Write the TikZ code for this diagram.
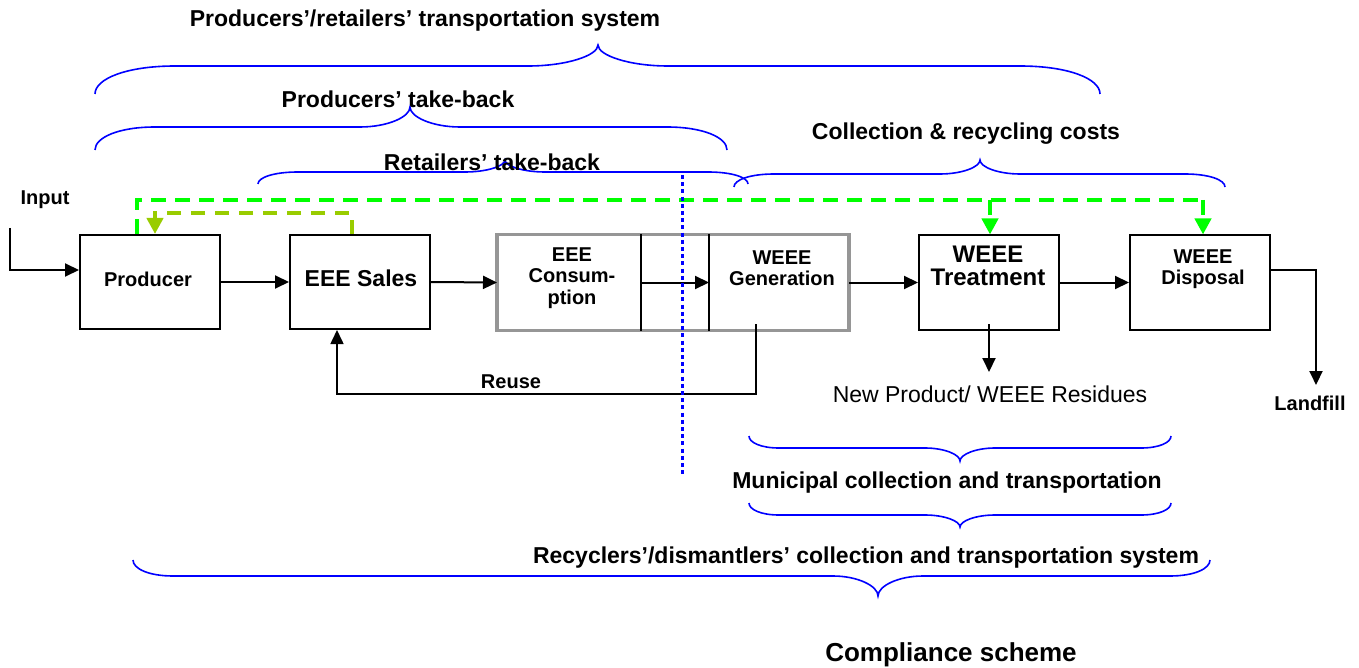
\documentclass[tikz,border=0pt]{standalone}
\usepackage{fontspec}
\setmainfont{Liberation Sans}
\usetikzlibrary{arrows.meta}
\definecolor{brgreen}{RGB}{0,255,0}
\definecolor{ygreen}{RGB}{153,204,0}
\definecolor{bblue}{RGB}{0,0,255}
\definecolor{bgray}{RGB}{150,150,150}
% #1 x1, #2 x2, #3 yend, #4 yline, #5 xtip, #6 ytip, #7 end radius, #8 tip radius
\newcommand\mybrace[8]{%
  \draw[brc] (#1,#3) .. controls (#1,{#4+0.45*(#3-#4)}) and ({#1+0.4*#7},#4) .. ({#1+#7},#4)
    -- ({#5-#8},#4) .. controls ({#5-0.45*#8},#4) and (#5,{#6+0.5*(#4-#6)}) .. (#5,#6)
    .. controls (#5,{#6+0.5*(#4-#6)}) and ({#5+0.45*#8},#4) .. ({#5+#8},#4)
    -- ({#2-#7},#4) .. controls ({#2-0.4*#7},#4) and (#2,{#4+0.45*(#3-#4)}) .. (#2,#3);}
\begin{document}
\begin{tikzpicture}[x=0.5pt,y=-0.5pt,
  box/.style={draw, line width=1pt, minimum width=70pt, minimum height=47pt, inner sep=0pt},
  lab/.style={font=\fontsize{11.5pt}{13pt}\selectfont\bfseries, inner sep=0pt},
  btxt/.style={font=\fontsize{10pt}{10.75pt}\selectfont\bfseries, align=center, inner sep=0pt},
  bigtxt/.style={font=\fontsize{12pt}{11.5pt}\selectfont\bfseries, align=center, inner sep=0pt},
  arr/.style={line width=1pt, -{Triangle[length=7pt,width=6.5pt]}},
  gdash/.style={brgreen, line width=2pt, dash pattern=on 7.5pt off 4.5pt},
  ydash/.style={ygreen, line width=2pt, dash pattern=on 7pt off 5pt},
  gtip/.style={-{Triangle[length=8pt,width=8pt]}},
  brc/.style={bblue, line width=0.8pt}]
\useasboundingbox (0,0) rectangle (1359,668);

% boxes
\node[box] (prod) at (150,282) {};
\node[box] (sales) at (360,282) {};
\node[box, draw=none, minimum width=71pt] (cons) at (569,282.5) {};
\node[box, draw=none, minimum width=69pt] (gen) at (779,282.5) {};
\node[box] (treat) at (989,282.5) {};
\node[box] (disp) at (1200,282.5) {};
\draw[bgray, line width=1.8pt] (cons.north west) rectangle (gen.south east);
\draw[line width=0.8pt] (cons.north east) -- (cons.south east);
\draw[line width=0.8pt] (gen.north west) -- (gen.south west);

% box texts
\node[btxt] (tprod) at (148,279) {Producer};
\node[bigtxt, font=\fontsize{11.5pt}{12pt}\selectfont\bfseries] (tsales) at (361,278) {EEE Sales};
\node[btxt] (tcons) at (572,278) {EEE\\Consum-\\ption};
\node[btxt] (tgen) at (782,268) {WEEE\\Generation};
\node[bigtxt] (ttreat) at (988,266) {WEEE\\Treatment};
\node[btxt] (tdisp) at (1203,269) {WEEE\\Disposal};

% input
\node[btxt] (input) at (45,200) {Input};
\coordinate (in0) at (10,228);
\coordinate (in1) at (10,270);
\draw[arr] (in0) -- (in1) -- (in1 -| prod.west);

% main flow
\draw[arr] (prod.east) -- (sales.west);
\draw[arr] (sales.east) -- (cons.west);
\draw[arr] (cons.east) -- (gen.west);
\draw[arr] (gen.east) -- (treat.west);
\draw[arr] (treat.east) -- (disp.west);

% landfill
\node[btxt] (landfill) at (1310,403) {Landfill};
\coordinate (lf0) at (1316,270);
\coordinate (lf1) at (1316,385);
\draw[arr] (disp.east |- lf0) -- (lf0) -- (lf1);

% treatment output
\node[font=\fontsize{11.5pt}{13pt}\selectfont, inner sep=0pt] (resid) at (990,394) {New Product/ WEEE Residues};
\coordinate (t0) at (989,324);
\coordinate (t1) at (989,372);
\draw[arr] (t0) -- (t1);

% reuse
\node[btxt] (reuse) at (511,382) {Reuse};
\coordinate (r0) at (756,324);
\coordinate (r1) at (756,394);
\coordinate (r2) at (337,394);
\draw[arr, line width=0.8pt] (r0) -- (r1) -- (r2) -- (r2 |- sales.south);

% green dashed
\coordinate (g0) at (137,200);
\coordinate (gt) at (990,200);
\coordinate (gd) at (1203,200);
\draw[gdash] (prod.north -| g0) -- (g0) -- (gd);
\draw[gdash, gtip] (gt) -- (gt |- treat.north);
\draw[gdash, gtip] (gd) -- (gd |- disp.north);

% yellow-green dashed
\coordinate (y0) at (352,213);
\coordinate (y1) at (155,213);
\draw[ydash, gtip] (sales.north -| y0) -- (y0) -- (y1) -- (y1 |- prod.north);

% blue dotted
\coordinate (d0) at (682,175);
\coordinate (d1) at (682,475);
\draw[bblue, line width=1.5pt, dash pattern=on 2pt off 1.6pt] (d0) -- (d1);

% braces
\mybrace{95}{1100}{94}{66}{598}{45}{80}{70}
\mybrace{95}{727}{150}{127}{410}{107}{60}{50}
\mybrace{258}{748}{184}{172}{505}{160}{40}{40}
\mybrace{734}{1225}{187}{174}{980}{160}{40}{40}
\mybrace{749}{1171}{436}{448}{960}{461}{30}{35}
\mybrace{749}{1171}{503}{515}{960}{527}{30}{35}
\mybrace{133}{1210}{560}{576}{878}{596}{40}{45}

% labels
\node[lab] (l1) at (425,21) {Producers’/retailers’ transportation system};
\node[lab] (l2) at (398,99) {Producers’ take-back};
\node[lab] (l3) at (492,162) {Retailers’ take-back};
\node[lab] (l4) at (966,134) {Collection \& recycling costs};
\node[lab] (l5) at (947,483) {Municipal collection and transportation};
\node[lab] (l6) at (866,558) {Recyclers’/dismantlers’ collection and transportation system};
\node[lab, font=\fontsize{13pt}{15pt}\selectfont\bfseries] (l7) at (951,655) {Compliance scheme};
\end{tikzpicture}
\end{document}
